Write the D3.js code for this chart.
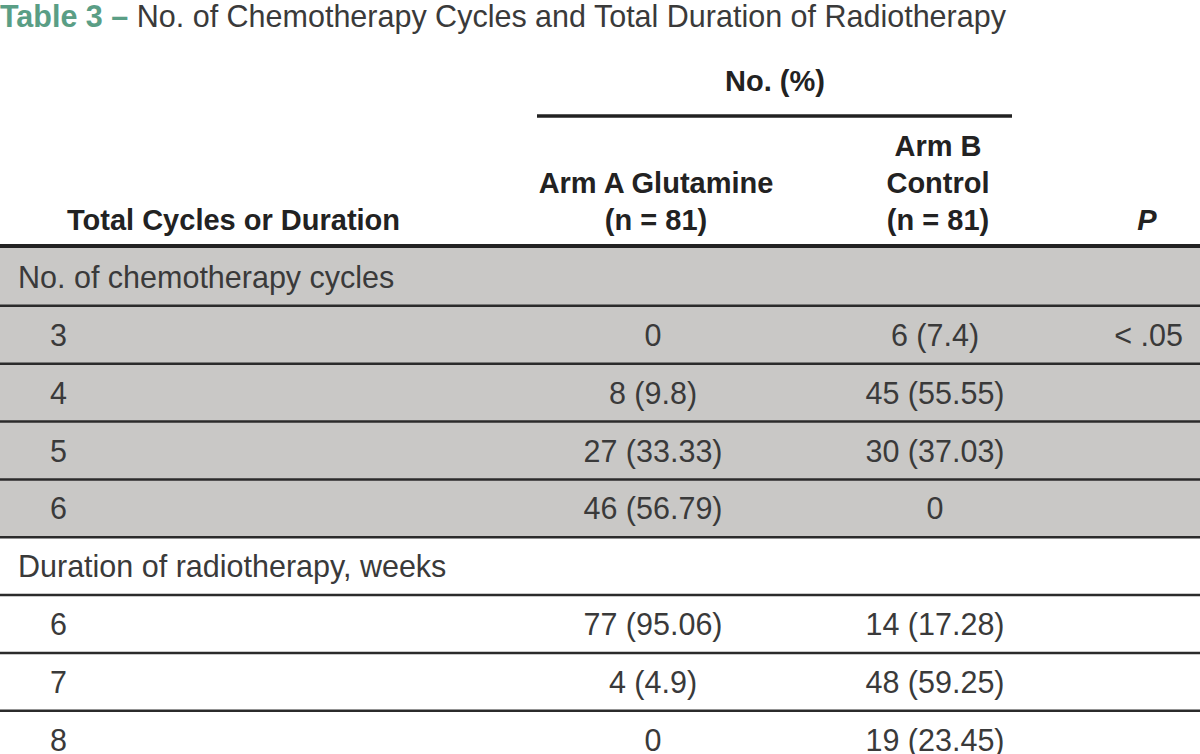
<!doctype html>
<html>
  <head>
    <meta charset="utf-8">
    <title>Table 3</title>
    <script src="https://cdnjs.cloudflare.com/ajax/libs/d3/7.8.5/d3.min.js"></script>
    <style>
      body { margin: 0; background: #fff; }
      svg text { font-family: "Liberation Sans", Arial, sans-serif; }
    </style>
  </head>
  <body>
    <div id="table"></div>
    <script>
      // table content
      const groupLabels = ["No. of chemotherapy cycles", "Duration of radiotherapy, weeks"];
      const rowGroup  = [0, 0, 0, 0, 1, 1, 1];
      const rowLabels = ["3", "4", "5", "6", "6", "7", "8"];
      const armA = ["0", "8 (9.8)", "27 (33.33)", "46 (56.79)", "77 (95.06)", "4 (4.9)", "0"];
      const armB = ["6 (7.4)", "45 (55.55)", "30 (37.03)", "0", "14 (17.28)", "48 (59.25)", "19 (23.45)"];
      const pVals = ["< .05", "", "", "", "", "", ""];

      const width = 1200, height = 754;
      const ink = "#3a3a3a", dark = "#222";

      // flatten groups + rows in display order
      const rows = [];
      groupLabels.forEach((g, gi) => {
        rows.push({ type: "group", label: g, shaded: gi === 0 });
        rowLabels.forEach((r, i) => {
          if (rowGroup[i] === gi) {
            rows.push({ type: "row", label: r, a: armA[i], b: armB[i], p: pVals[i], shaded: gi === 0 });
          }
        });
      });

      const svg = d3.select("#table").append("svg")
        .attr("width", width)
        .attr("height", height);

      // title
      const title = svg.append("text")
        .attr("x", 0)
        .attr("y", 27)
        .style("font-size", "30.5px");
      title.append("tspan")
        .attr("fill", "#5a9e85")
        .style("font-weight", "bold")
        .text("Table 3 \u2013 ");
      title.append("tspan")
        .attr("fill", ink)
        .text("No. of Chemotherapy Cycles and Total Duration of Radiotherapy");

      // column anchors
      const col = { group: 18, label: 50, a: 653, b: 935, p: 1183 };

      // header
      const head = svg.append("g")
        .attr("fill", dark)
        .style("font-size", "29px")
        .style("font-weight", "bold");

      head.append("text").attr("x", 775).attr("y", 91).attr("text-anchor", "middle").text("No. (%)");
      svg.append("line")
        .attr("x1", 537).attr("x2", 1012)
        .attr("y1", 116).attr("y2", 116)
        .attr("stroke", dark).attr("stroke-width", 3.5);

      head.append("text").attr("x", 67).attr("y", 230).text("Total Cycles or Duration");
      head.append("text").attr("x", 656).attr("y", 193).attr("text-anchor", "middle").text("Arm A Glutamine");
      head.append("text").attr("x", 656).attr("y", 230).attr("text-anchor", "middle").text("(n = 81)");
      head.append("text").attr("x", 938).attr("y", 156).attr("text-anchor", "middle").text("Arm B");
      head.append("text").attr("x", 938).attr("y", 193).attr("text-anchor", "middle").text("Control");
      head.append("text").attr("x", 938).attr("y", 230).attr("text-anchor", "middle").text("(n = 81)");
      head.append("text").attr("x", 1147).attr("y", 230).attr("text-anchor", "middle")
        .style("font-style", "italic").text("P");

      // body
      const bodyTop = 248, rowH = 57.85;
      const y = d3.scaleLinear().domain([0, rows.length]).range([bodyTop, bodyTop + rowH * rows.length]);

      svg.selectAll("rect.shade")
        .data(rows.filter(d => d.shaded))
        .join("rect")
        .attr("class", "shade")
        .attr("x", 0)
        .attr("width", width)
        .attr("y", (d, i) => y(i))
        .attr("height", rowH)
        .attr("fill", "#c9c8c6");

      const g = svg.selectAll("g.row")
        .data(rows)
        .join("g")
        .attr("class", "row")
        .attr("transform", (d, i) => `translate(0,${y(i) + 40})`)
        .attr("fill", ink)
        .style("font-size", "30.5px");

      g.append("text")
        .attr("x", d => d.type === "group" ? col.group : col.label)
        .text(d => d.label);
      g.filter(d => d.type === "row").append("text")
        .attr("x", col.a).attr("text-anchor", "middle").text(d => d.a);
      g.filter(d => d.type === "row").append("text")
        .attr("x", col.b).attr("text-anchor", "middle").text(d => d.b);
      g.filter(d => d.type === "row").append("text")
        .attr("x", col.p).attr("text-anchor", "end").text(d => d.p);

      // rules between rows
      svg.selectAll("line.rule")
        .data(d3.range(1, rows.length))
        .join("line")
        .attr("class", "rule")
        .attr("x1", 0).attr("x2", width)
        .attr("y1", d => y(d)).attr("y2", d => y(d))
        .attr("stroke", "#2b2b2b")
        .attr("stroke-width", 2.5);

      // thick rule under header
      svg.append("line")
        .attr("x1", 0).attr("x2", width)
        .attr("y1", 246).attr("y2", 246)
        .attr("stroke", dark).attr("stroke-width", 4);
    </script>
  </body>
</html>
